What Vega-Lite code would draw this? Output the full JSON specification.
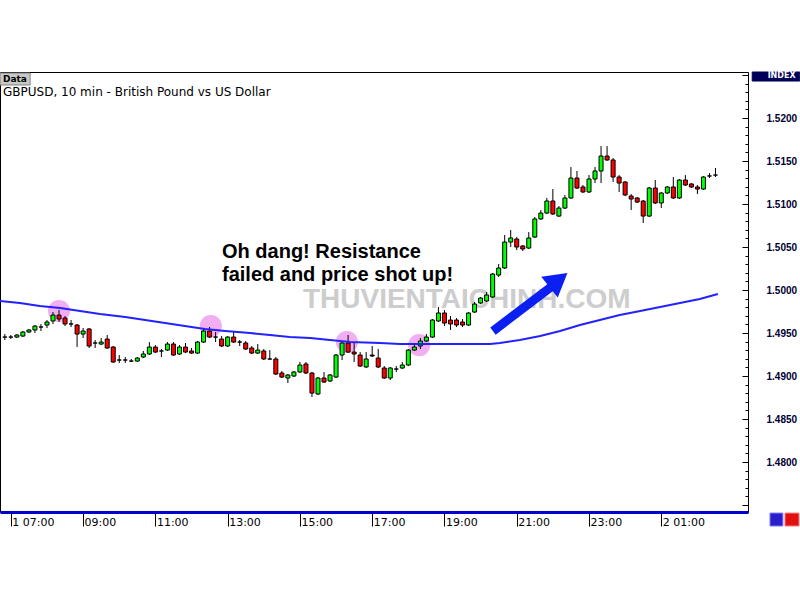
{
  "$schema": "https://vega.github.io/schema/vega-lite/v6.json",
  "width": 748,
  "height": 440,
  "autosize": {"type": "none"},
  "padding": {"left": 0, "top": 72, "right": 52, "bottom": 88},
  "background": "white",
  "config": {"view": {"stroke": "#000000", "strokeWidth": 1}},
  "title": {
    "text": "Data",
    "subtitle": "GBPUSD, 10 min - British Pound vs US Dollar",
    "anchor": "start",
    "frame": "group",
    "orient": "top",
    "offset": -28,
    "dx": 3,
    "font": "DejaVu Sans",
    "fontSize": 9,
    "fontWeight": "bold",
    "color": "#000000",
    "subtitleFont": "DejaVu Sans",
    "subtitleFontSize": 12,
    "subtitleColor": "#000000",
    "subtitlePadding": 3
  },
  "datasets": {
    "candles": [
      {"t":"2010-06-01T06:50","o":1.49453,"h":1.49488,"l":1.49419,"c":1.49453},
      {"t":"2010-06-01T07:00","o":1.49453,"h":1.49477,"l":1.49430,"c":1.49453},
      {"t":"2010-06-01T07:10","o":1.49453,"h":1.49488,"l":1.49442,"c":1.49477},
      {"t":"2010-06-01T07:20","o":1.49465,"h":1.49523,"l":1.49453,"c":1.49512},
      {"t":"2010-06-01T07:30","o":1.49512,"h":1.49547,"l":1.49500,"c":1.49535},
      {"t":"2010-06-01T07:40","o":1.49535,"h":1.49593,"l":1.49500,"c":1.49581},
      {"t":"2010-06-01T07:50","o":1.49570,"h":1.49605,"l":1.49523,"c":1.49570},
      {"t":"2010-06-01T08:00","o":1.49593,"h":1.49651,"l":1.49558,"c":1.49628},
      {"t":"2010-06-01T08:10","o":1.49640,"h":1.49744,"l":1.49605,"c":1.49709},
      {"t":"2010-06-01T08:20","o":1.49709,"h":1.49767,"l":1.49628,"c":1.49663},
      {"t":"2010-06-01T08:30","o":1.49674,"h":1.49698,"l":1.49581,"c":1.49605},
      {"t":"2010-06-01T08:40","o":1.49605,"h":1.49651,"l":1.49570,"c":1.49605},
      {"t":"2010-06-01T08:50","o":1.49593,"h":1.49605,"l":1.49337,"c":1.49488},
      {"t":"2010-06-01T09:00","o":1.49488,"h":1.49558,"l":1.49442,"c":1.49523},
      {"t":"2010-06-01T09:10","o":1.49547,"h":1.49558,"l":1.49326,"c":1.49349},
      {"t":"2010-06-01T09:20","o":1.49384,"h":1.49419,"l":1.49326,"c":1.49384},
      {"t":"2010-06-01T09:30","o":1.49372,"h":1.49442,"l":1.49360,"c":1.49395},
      {"t":"2010-06-01T09:40","o":1.49430,"h":1.49477,"l":1.49314,"c":1.49326},
      {"t":"2010-06-01T09:50","o":1.49337,"h":1.49349,"l":1.49151,"c":1.49163},
      {"t":"2010-06-01T10:00","o":1.49186,"h":1.49244,"l":1.49151,"c":1.49186},
      {"t":"2010-06-01T10:10","o":1.49186,"h":1.49221,"l":1.49151,"c":1.49186},
      {"t":"2010-06-01T10:20","o":1.49174,"h":1.49198,"l":1.49163,"c":1.49174},
      {"t":"2010-06-01T10:30","o":1.49174,"h":1.49221,"l":1.49163,"c":1.49209},
      {"t":"2010-06-01T10:40","o":1.49221,"h":1.49291,"l":1.49209,"c":1.49256},
      {"t":"2010-06-01T10:50","o":1.49256,"h":1.49395,"l":1.49244,"c":1.49337},
      {"t":"2010-06-01T11:00","o":1.49337,"h":1.49360,"l":1.49267,"c":1.49279},
      {"t":"2010-06-01T11:10","o":1.49291,"h":1.49314,"l":1.49221,"c":1.49291},
      {"t":"2010-06-01T11:20","o":1.49302,"h":1.49395,"l":1.49291,"c":1.49372},
      {"t":"2010-06-01T11:30","o":1.49372,"h":1.49395,"l":1.49233,"c":1.49244},
      {"t":"2010-06-01T11:40","o":1.49256,"h":1.49360,"l":1.49244,"c":1.49337},
      {"t":"2010-06-01T11:50","o":1.49337,"h":1.49384,"l":1.49267,"c":1.49279},
      {"t":"2010-06-01T12:00","o":1.49291,"h":1.49326,"l":1.49256,"c":1.49267},
      {"t":"2010-06-01T12:10","o":1.49267,"h":1.49407,"l":1.49256,"c":1.49395},
      {"t":"2010-06-01T12:20","o":1.49395,"h":1.49547,"l":1.49384,"c":1.49523},
      {"t":"2010-06-01T12:30","o":1.49523,"h":1.49570,"l":1.49442,"c":1.49453},
      {"t":"2010-06-01T12:40","o":1.49453,"h":1.49512,"l":1.49395,"c":1.49453},
      {"t":"2010-06-01T12:50","o":1.49430,"h":1.49465,"l":1.49337,"c":1.49349},
      {"t":"2010-06-01T13:00","o":1.49349,"h":1.49465,"l":1.49337,"c":1.49453},
      {"t":"2010-06-01T13:10","o":1.49453,"h":1.49523,"l":1.49384,"c":1.49395},
      {"t":"2010-06-01T13:20","o":1.49395,"h":1.49419,"l":1.49349,"c":1.49395},
      {"t":"2010-06-01T13:30","o":1.49384,"h":1.49407,"l":1.49302,"c":1.49314},
      {"t":"2010-06-01T13:40","o":1.49326,"h":1.49349,"l":1.49256,"c":1.49267},
      {"t":"2010-06-01T13:50","o":1.49267,"h":1.49372,"l":1.49256,"c":1.49302},
      {"t":"2010-06-01T14:00","o":1.49291,"h":1.49314,"l":1.49186,"c":1.49198},
      {"t":"2010-06-01T14:10","o":1.49198,"h":1.49302,"l":1.49186,"c":1.49198},
      {"t":"2010-06-01T14:20","o":1.49198,"h":1.49221,"l":1.49012,"c":1.49023},
      {"t":"2010-06-01T14:30","o":1.49035,"h":1.49058,"l":1.48977,"c":1.48988},
      {"t":"2010-06-01T14:40","o":1.48977,"h":1.49023,"l":1.48919,"c":1.49012},
      {"t":"2010-06-01T14:50","o":1.49000,"h":1.49058,"l":1.48988,"c":1.49047},
      {"t":"2010-06-01T15:00","o":1.49047,"h":1.49163,"l":1.49035,"c":1.49128},
      {"t":"2010-06-01T15:10","o":1.49140,"h":1.49163,"l":1.49023,"c":1.49035},
      {"t":"2010-06-01T15:20","o":1.49035,"h":1.49047,"l":1.48756,"c":1.48802},
      {"t":"2010-06-01T15:30","o":1.48791,"h":1.48988,"l":1.48779,"c":1.48977},
      {"t":"2010-06-01T15:40","o":1.48977,"h":1.49047,"l":1.48919,"c":1.48930},
      {"t":"2010-06-01T15:50","o":1.48942,"h":1.49023,"l":1.48930,"c":1.49012},
      {"t":"2010-06-01T16:00","o":1.48988,"h":1.49256,"l":1.48977,"c":1.49244},
      {"t":"2010-06-01T16:10","o":1.49244,"h":1.49395,"l":1.49186,"c":1.49384},
      {"t":"2010-06-01T16:20","o":1.49384,"h":1.49477,"l":1.49267,"c":1.49279},
      {"t":"2010-06-01T16:30","o":1.49279,"h":1.49384,"l":1.49163,"c":1.49256},
      {"t":"2010-06-01T16:40","o":1.49244,"h":1.49279,"l":1.49105,"c":1.49116},
      {"t":"2010-06-01T16:50","o":1.49105,"h":1.49279,"l":1.49093,"c":1.49198},
      {"t":"2010-06-01T17:00","o":1.49244,"h":1.49349,"l":1.49221,"c":1.49233},
      {"t":"2010-06-01T17:10","o":1.49209,"h":1.49314,"l":1.49093,"c":1.49105},
      {"t":"2010-06-01T17:20","o":1.49093,"h":1.49116,"l":1.48965,"c":1.48977},
      {"t":"2010-06-01T17:30","o":1.48977,"h":1.49105,"l":1.48953,"c":1.49093},
      {"t":"2010-06-01T17:40","o":1.49081,"h":1.49116,"l":1.49047,"c":1.49081},
      {"t":"2010-06-01T17:50","o":1.49093,"h":1.49163,"l":1.49081,"c":1.49128},
      {"t":"2010-06-01T18:00","o":1.49128,"h":1.49314,"l":1.49116,"c":1.49302},
      {"t":"2010-06-01T18:10","o":1.49302,"h":1.49372,"l":1.49291,"c":1.49337},
      {"t":"2010-06-01T18:20","o":1.49349,"h":1.49442,"l":1.49314,"c":1.49407},
      {"t":"2010-06-01T18:30","o":1.49407,"h":1.49488,"l":1.49395,"c":1.49453},
      {"t":"2010-06-01T18:40","o":1.49453,"h":1.49663,"l":1.49442,"c":1.49651},
      {"t":"2010-06-01T18:50","o":1.49640,"h":1.49802,"l":1.49628,"c":1.49733},
      {"t":"2010-06-01T19:00","o":1.49733,"h":1.49767,"l":1.49581,"c":1.49616},
      {"t":"2010-06-01T19:10","o":1.49651,"h":1.49698,"l":1.49535,"c":1.49605},
      {"t":"2010-06-01T19:20","o":1.49651,"h":1.49674,"l":1.49570,"c":1.49593},
      {"t":"2010-06-01T19:30","o":1.49628,"h":1.49663,"l":1.49570,"c":1.49593},
      {"t":"2010-06-01T19:40","o":1.49593,"h":1.49744,"l":1.49581,"c":1.49733},
      {"t":"2010-06-01T19:50","o":1.49744,"h":1.49860,"l":1.49733,"c":1.49837},
      {"t":"2010-06-01T20:00","o":1.49849,"h":1.49919,"l":1.49837,"c":1.49907},
      {"t":"2010-06-01T20:10","o":1.49872,"h":1.49977,"l":1.49860,"c":1.49942},
      {"t":"2010-06-01T20:20","o":1.49919,"h":1.50198,"l":1.49907,"c":1.50186},
      {"t":"2010-06-01T20:30","o":1.50174,"h":1.50302,"l":1.50151,"c":1.50256},
      {"t":"2010-06-01T20:40","o":1.50256,"h":1.50640,"l":1.50244,"c":1.50558},
      {"t":"2010-06-01T20:50","o":1.50558,"h":1.50698,"l":1.50500,"c":1.50605},
      {"t":"2010-06-01T21:00","o":1.50593,"h":1.50616,"l":1.50465,"c":1.50500},
      {"t":"2010-06-01T21:10","o":1.50512,"h":1.50523,"l":1.50453,"c":1.50477},
      {"t":"2010-06-01T21:20","o":1.50488,"h":1.50674,"l":1.50477,"c":1.50605},
      {"t":"2010-06-01T21:30","o":1.50616,"h":1.50849,"l":1.50605,"c":1.50826},
      {"t":"2010-06-01T21:40","o":1.50826,"h":1.50930,"l":1.50814,"c":1.50895},
      {"t":"2010-06-01T21:50","o":1.50895,"h":1.51070,"l":1.50884,"c":1.51035},
      {"t":"2010-06-01T22:00","o":1.51035,"h":1.51174,"l":1.50872,"c":1.50884},
      {"t":"2010-06-01T22:10","o":1.50860,"h":1.50977,"l":1.50849,"c":1.50953},
      {"t":"2010-06-01T22:20","o":1.50953,"h":1.51105,"l":1.50942,"c":1.51070},
      {"t":"2010-06-01T22:30","o":1.51070,"h":1.51430,"l":1.51058,"c":1.51302},
      {"t":"2010-06-01T22:40","o":1.51302,"h":1.51384,"l":1.51174,"c":1.51186},
      {"t":"2010-06-01T22:50","o":1.51198,"h":1.51221,"l":1.51128,"c":1.51140},
      {"t":"2010-06-01T23:00","o":1.51140,"h":1.51337,"l":1.51128,"c":1.51291},
      {"t":"2010-06-01T23:10","o":1.51291,"h":1.51430,"l":1.51244,"c":1.51384},
      {"t":"2010-06-01T23:20","o":1.51384,"h":1.51674,"l":1.51244,"c":1.51558},
      {"t":"2010-06-01T23:30","o":1.51558,"h":1.51674,"l":1.51500,"c":1.51512},
      {"t":"2010-06-01T23:40","o":1.51512,"h":1.51535,"l":1.51256,"c":1.51314},
      {"t":"2010-06-01T23:50","o":1.51314,"h":1.51337,"l":1.51140,"c":1.51244},
      {"t":"2010-06-02T00:00","o":1.51256,"h":1.51267,"l":1.51093,"c":1.51105},
      {"t":"2010-06-02T00:10","o":1.51093,"h":1.51116,"l":1.50930,"c":1.51058},
      {"t":"2010-06-02T00:20","o":1.51070,"h":1.51081,"l":1.51012,"c":1.51023},
      {"t":"2010-06-02T00:30","o":1.51035,"h":1.51047,"l":1.50779,"c":1.50860},
      {"t":"2010-06-02T00:40","o":1.50860,"h":1.51198,"l":1.50849,"c":1.51186},
      {"t":"2010-06-02T00:50","o":1.51186,"h":1.51279,"l":1.51000,"c":1.51012},
      {"t":"2010-06-02T01:00","o":1.51012,"h":1.51140,"l":1.50953,"c":1.51128},
      {"t":"2010-06-02T01:10","o":1.51128,"h":1.51209,"l":1.51116,"c":1.51198},
      {"t":"2010-06-02T01:20","o":1.51198,"h":1.51314,"l":1.51058,"c":1.51070},
      {"t":"2010-06-02T01:30","o":1.51070,"h":1.51291,"l":1.51058,"c":1.51279},
      {"t":"2010-06-02T01:40","o":1.51279,"h":1.51337,"l":1.51209,"c":1.51221},
      {"t":"2010-06-02T01:50","o":1.51233,"h":1.51244,"l":1.51186,"c":1.51198},
      {"t":"2010-06-02T02:00","o":1.51198,"h":1.51221,"l":1.51116,"c":1.51174},
      {"t":"2010-06-02T02:10","o":1.51174,"h":1.51326,"l":1.51163,"c":1.51314},
      {"t":"2010-06-02T02:20","o":1.51326,"h":1.51360,"l":1.51302,"c":1.51326},
      {"t":"2010-06-02T02:30","o":1.51337,"h":1.51419,"l":1.51314,"c":1.51337}
    ],
    "ma": [
      {"t":"2010-06-01T06:42","p":1.49872},
      {"t":"2010-06-01T07:15","p":1.49849},
      {"t":"2010-06-01T07:48","p":1.49814},
      {"t":"2010-06-01T08:22","p":1.49791},
      {"t":"2010-06-01T08:55","p":1.49756},
      {"t":"2010-06-01T09:28","p":1.49721},
      {"t":"2010-06-01T10:10","p":1.49686},
      {"t":"2010-06-01T10:43","p":1.49651},
      {"t":"2010-06-01T11:16","p":1.49616},
      {"t":"2010-06-01T11:49","p":1.49581},
      {"t":"2010-06-01T12:22","p":1.49547},
      {"t":"2010-06-01T12:56","p":1.49523},
      {"t":"2010-06-01T13:37","p":1.49500},
      {"t":"2010-06-01T14:10","p":1.49477},
      {"t":"2010-06-01T14:43","p":1.49453},
      {"t":"2010-06-01T15:17","p":1.49442},
      {"t":"2010-06-01T15:50","p":1.49419},
      {"t":"2010-06-01T16:23","p":1.49395},
      {"t":"2010-06-01T17:13","p":1.49384},
      {"t":"2010-06-01T17:46","p":1.49372},
      {"t":"2010-06-01T20:16","p":1.49372},
      {"t":"2010-06-01T20:32","p":1.49384},
      {"t":"2010-06-01T21:05","p":1.49419},
      {"t":"2010-06-01T21:39","p":1.49465},
      {"t":"2010-06-01T22:12","p":1.49523},
      {"t":"2010-06-01T22:45","p":1.49593},
      {"t":"2010-06-01T23:18","p":1.49651},
      {"t":"2010-06-01T23:51","p":1.49709},
      {"t":"2010-06-02T00:25","p":1.49756},
      {"t":"2010-06-02T00:58","p":1.49802},
      {"t":"2010-06-02T01:31","p":1.49849},
      {"t":"2010-06-02T02:04","p":1.49895},
      {"t":"2010-06-02T02:34","p":1.49953}
    ]
  },
  "encoding": {
    "x": {
      "field": "t",
      "type": "temporal",
      "title": null,
      "scale": {"domain": [{"year":2010,"month":6,"date":1,"hours":6,"minutes":42},{"year":2010,"month":6,"date":2,"hours":3,"minutes":24}], "nice": false, "padding": 0},
      "axis": {
        "values": [
          {"year":2010,"month":6,"date":1,"hours":7},
          {"year":2010,"month":6,"date":1,"hours":9},
          {"year":2010,"month":6,"date":1,"hours":11},
          {"year":2010,"month":6,"date":1,"hours":13},
          {"year":2010,"month":6,"date":1,"hours":15},
          {"year":2010,"month":6,"date":1,"hours":17},
          {"year":2010,"month":6,"date":1,"hours":19},
          {"year":2010,"month":6,"date":1,"hours":21},
          {"year":2010,"month":6,"date":1,"hours":23},
          {"year":2010,"month":6,"date":2,"hours":1}
        ],
        "labelExpr": "(hours(datum.value) == 7 ? '1 ' : (hours(datum.value) == 1 ? '2 ' : '')) + timeFormat(datum.value, '%H:%M')",
        "grid": false,
        "domainColor": "#0000cc",
        "domainWidth": 3,
        "tickColor": "#000000",
        "tickSize": 14,
        "labelAlign": "left",
        "labelBaseline": "top",
        "labelPadding": -10,
        "labelOffset": 1,
        "labelFont": "DejaVu Sans",
        "labelFontSize": 11,
        "labelColor": "#000000",
        "labelOverlap": false,
        "labelFlush": false,
        "labelBound": false
      }
    },
    "y": {
      "field": "p",
      "type": "quantitative",
      "title": null,
      "scale": {"domain": [1.47419, 1.52535], "nice": false, "zero": false},
      "axis": {
        "orient": "right",
        "values": [1.475,1.476,1.477,1.478,1.479,1.48,1.481,1.482,1.483,1.484,1.485,1.486,1.487,1.488,1.489,1.49,1.491,1.492,1.493,1.494,1.495,1.496,1.497,1.498,1.499,1.5,1.501,1.502,1.503,1.504,1.505,1.506,1.507,1.508,1.509,1.51,1.511,1.512,1.513,1.514,1.515,1.516,1.517,1.518,1.519,1.52,1.521,1.522,1.523,1.524,1.525],
        "labelExpr": "abs(datum.value * 200 - round(datum.value * 200)) < 0.01 && datum.value > 1.4799 && datum.value < 1.5201 ? format(datum.value, '.4f') : ''",
        "tickSize": {"condition": {"test": "abs(datum.value * 200 - round(datum.value * 200)) < 0.01", "value": -6}, "value": -3},
        "tickColor": "#000000",
        "domain": false,
        "grid": false,
        "labelPadding": 24,
        "labelFont": "Liberation Sans",
        "labelFontWeight": "bold",
        "labelFontSize": 10,
        "labelColor": "#000033",
        "labelOverlap": false,
        "labelFlush": false,
        "labelBound": false
      }
    }
  },
  "layer": [
    {
      "data": {"values": [{"t": "2010-06-01T15:05", "p": 1.49884, "label": "THUVIENTAICHINH.COM"}]},
      "mark": {"type": "text", "align": "left", "baseline": "middle", "font": "Liberation Sans", "fontWeight": "bold", "fontSize": 28, "color": "#cdcdcd"},
      "encoding": {"text": {"field": "label"}}
    },
    {
      "data": {"values": [
        {"t": "2010-06-01T08:20", "p": 1.49756},
        {"t": "2010-06-01T12:32", "p": 1.49581},
        {"t": "2010-06-01T16:18", "p": 1.49395},
        {"t": "2010-06-01T18:18", "p": 1.49360}
      ]},
      "mark": {"type": "point", "shape": "circle", "filled": true, "size": 490, "color": "#f2aef2", "opacity": 1}
    },
    {
      "data": {"name": "candles"},
      "mark": {"type": "rule", "color": "#000000", "strokeWidth": 1},
      "encoding": {
        "y": {"field": "l", "type": "quantitative", "title": null, "scale": {"domain": [1.47419, 1.52535], "nice": false, "zero": false}},
        "y2": {"field": "h"}
      }
    },
    {
      "data": {"name": "candles"},
      "mark": {"type": "bar", "size": 4, "stroke": "#000000", "strokeWidth": 1},
      "encoding": {
        "y": {"field": "o", "type": "quantitative", "title": null, "scale": {"domain": [1.47419, 1.52535], "nice": false, "zero": false}},
        "y2": {"field": "c"},
        "fill": {"condition": {"test": "datum.c > datum.o", "value": "#00ff00"}, "value": "#ff0000"}
      }
    },
    {
      "data": {"name": "ma"},
      "mark": {"type": "line", "color": "#2222ff", "strokeWidth": 2},
      "encoding": {}
    },
    {
      "data": {"values": [{"t": "2010-06-01T20:20:36", "p": 1.49523, "t2": "2010-06-01T21:56:54", "p2": 1.50035}]},
      "mark": {"type": "rule", "color": "#0a1ff0", "strokeWidth": 9, "strokeCap": "butt"},
      "encoding": {"x2": {"field": "t2"}, "y2": {"field": "p2"}}
    },
    {
      "data": {"values": [{"t": "2010-06-01T22:09:18", "p": 1.50116}]},
      "mark": {"type": "point", "shape": "triangle-up", "filled": true, "size": 700, "angle": 51.5, "color": "#0a1ff0", "opacity": 1}
    },
    {
      "data": {"values": [
        {"t": "2010-06-01T12:50:36", "p": 1.50442, "label": "Oh dang! Resistance"},
        {"t": "2010-06-01T12:50:36", "p": 1.50174, "label": "failed and price shot up!"}
      ]},
      "mark": {"type": "text", "align": "left", "baseline": "middle", "font": "Liberation Sans", "fontWeight": "bold", "fontSize": 20, "color": "#000000"},
      "encoding": {"text": {"field": "label"}}
    },
    {
      "data": {"values": [
        {"t": "2010-06-01T06:42", "t2": "2010-06-01T07:32", "p": 1.52523, "p2": 1.52384, "box": "data"},
        {"t": "2010-06-02T03:31", "t2": "2010-06-02T04:50", "p": 1.52535, "p2": 1.5243, "box": "index"},
        {"t": "2010-06-02T04:00:30", "t2": "2010-06-02T04:22", "p": 1.47407, "p2": 1.47256, "box": "first"},
        {"t": "2010-06-02T04:25:24", "t2": "2010-06-02T04:48:42", "p": 1.47407, "p2": 1.47256, "box": "back"}
      ]},
      "mark": {"type": "rect", "strokeWidth": 1},
      "encoding": {
        "x2": {"field": "t2"},
        "y2": {"field": "p2"},
        "fill": {"field": "box", "type": "nominal", "scale": {"domain": ["data", "index", "first", "back"], "range": ["#c8c8c8", "#00005a", "#2a1fc8", "#e01010"]}, "legend": null},
        "stroke": {"field": "box", "type": "nominal", "scale": {"domain": ["data", "index", "first", "back"], "range": ["#808080", "#00005a", "#8080ff", "#ff8080"]}, "legend": null}
      }
    },
    {
      "data": {"values": [{"t": "2010-06-02T04:43", "p": 1.52483, "label": "INDEX"}]},
      "mark": {"type": "text", "align": "right", "baseline": "middle", "font": "DejaVu Sans", "fontWeight": "bold", "fontSize": 8, "color": "#ffffff"},
      "encoding": {"text": {"field": "label"}}
    }
  ]
}
